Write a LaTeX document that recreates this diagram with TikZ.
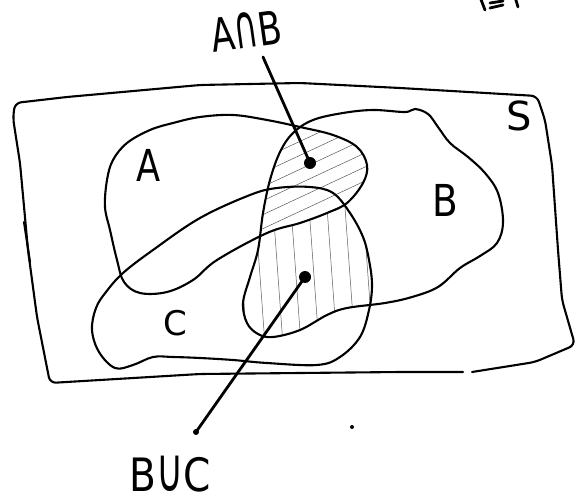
\documentclass[tikz,border=0pt]{standalone}
\usepackage{fontspec}
\usepackage{graphicx}
\setmainfont{DejaVu Sans}
\newcommand{\bigcapsym}{\scalebox{0.95}[1.33]{∩}}
\newcommand{\bigcupsym}{\scalebox{0.95}[1.33]{∪}}
\begin{document}
\begin{tikzpicture}[x=1pt,y=-1pt,
  outline/.style={line width=2.1pt, line join=round, line cap=round},
  pointer/.style={line width=2.8pt, line cap=round},
  hatch/.style={line width=0.5pt, black!65},
  setlabel/.style={font=\fontsize{44}{44}\selectfont, inner sep=0pt},
  biglabel/.style={font=\fontsize{46}{46}\selectfont, inner sep=0pt, text height=34pt, text depth=0pt},
  dotnode/.style={circle, fill=black, inner sep=0pt, minimum size=12pt},
  tipnode/.style={circle, fill=black, inner sep=0pt, minimum size=6pt}]

\useasboundingbox (0,0) rectangle (585,502);

\def\pathA{plot[smooth cycle, tension=0.6] coordinates {(200,117) (233,115) (267,120) (300,127) (333,135) (357,147) (367,165) (363,183) (347,203) (327,213) (300,223) (267,233) (217,260) (193,280) (167,292) (140,293) (124,282) (117,260) (110,230) (105,207) (107,180) (113,160) (127,143) (150,130) (173,123)}}
\def\pathB{plot[smooth cycle, tension=0.6] coordinates {(258,250) (263,213) (270,180) (280,152) (293,133) (313,120) (343,113) (373,110) (405,112) (415,109) (428,114) (438,127) (450,143) (468,157) (485,173) (498,193) (503,222) (497,243) (480,256) (460,268) (438,287) (412,297) (385,303) (347,308) (327,315) (300,330) (273,337) (258,334) (247,323) (243,303) (250,277)}}
\def\pathC{plot[smooth cycle, tension=0.6] coordinates {(200,218) (250,195) (277,188) (310,187) (333,193) (350,213) (363,237) (369,260) (372,285) (369,310) (360,337) (340,357) (317,365) (267,363) (233,360) (200,358) (173,357) (153,357) (133,365) (115,368) (99,352) (92,330) (96,308) (106,292) (123,273) (153,250)}}

% vertical hatching in B and C
\begin{scope}
  \clip \pathB;
  \clip \pathC;
  \foreach \x in {235,253,...,385} \draw[hatch] (\x,180) -- (\x+12,345);
\end{scope}
% diagonal hatching in A and B
\begin{scope}
  \clip \pathB;
  \fill[white] \pathA;
  \clip \pathA;
  \foreach \k in {-40,-26,...,220} \draw[hatch] (230,130+\k) -- (380,60+\k);
\end{scope}

% universe S
\draw[outline, rounded corners=6pt] (463,372) -- (400,372) -- (300,373) -- (200,374) -- (100,380) -- (50,383) -- (37,317) -- (28,250) -- (20,163) -- (13,118) -- (15,103) -- (67,97) -- (200,85) -- (300,83) -- (400,88) -- (537,96) -- (545,120) -- (552,165) -- (558,250) -- (562,300) -- (575,345) -- (535,362) -- (472,372);
\draw[outline] (24,222) -- (30,262);

% sets
\draw[outline] \pathA;
\draw[outline] \pathB;
\draw[outline] \pathC;

% labels
\node[setlabel] (labA) at (149,165) {\scalebox{0.8}[1]{A}};
\node[setlabel] (labB) at (445,200) {\scalebox{0.85}[1]{B}};
\node[setlabel, font=\fontsize{34}{34}\selectfont] (labC) at (175,323) {C};
\node[setlabel, font=\fontsize{40}{40}\selectfont] (labS) at (519,116) {S};
\node[biglabel, rotate=8] (labAB) at (246,31) {\scalebox{0.75}[1]{A\bigcapsym B}};
\node[biglabel] (labBC) at (170,474) {\scalebox{0.85}[1]{B\bigcupsym C}};

% pointers
\node[dotnode] (dAB) at (310,163) {};
\coordinate (tAB) at (263,57);
\draw[pointer] (tAB) -- (dAB.center);
\node[dotnode] (dBC) at (305,277) {};
\node[tipnode] (eBC) at (196,432) {};
\draw[pointer] (dBC.center) -- (eBC.center);
\node[circle, fill=black, inner sep=0pt, minimum size=4pt] (stray) at (352,427) {};

% cut-off writing at top right
\draw[pointer] (480,-3) -- (485,10);
\draw[pointer] (490,3) -- (503,1);
\draw[pointer] (490,8) -- (503,5);
\draw[pointer] (515,-3) -- (518,7);
\end{tikzpicture}
\end{document}
